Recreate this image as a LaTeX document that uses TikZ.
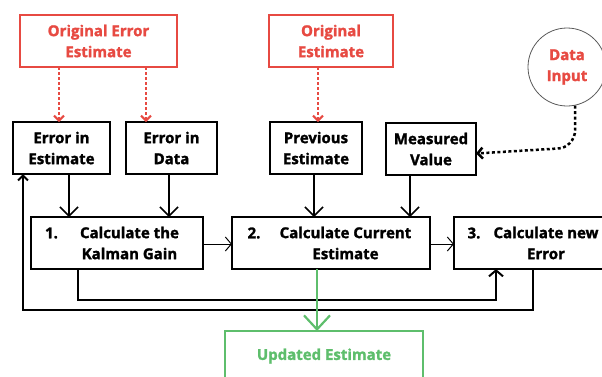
\documentclass[tikz,border=0pt]{standalone}
\usepackage{fontspec}
\setmainfont{Open Sans}
\newfontfamily\heavyfont{Open Sans Bold}[FakeBold=1.6]
\usetikzlibrary{arrows.meta}
\definecolor{ored}{RGB}{231,74,66}
\definecolor{ogreen}{RGB}{94,190,108}
\definecolor{ogrey}{RGB}{90,90,90}
\begin{document}
\begin{tikzpicture}[x=1pt,y=-1pt,
  txt/.style={font=\heavyfont\fontsize{15}{21}\selectfont, align=center, inner sep=0pt},
  box/.style={txt, draw=black, line width=2pt, outer sep=0pt},
  rbox/.style={box, draw=ored, text=ored},
  gbox/.style={box, draw=ogreen, text=ogreen},
  arr/.style={line width=1.5pt, -{Straight Barb[length=9pt,width=18pt]}},
  thinarr/.style={line width=1pt, -{Straight Barb[length=6pt,width=14pt]}},
  fback/.style={line width=2pt, line join=miter},
  rdash/.style={ored, line width=2pt, dash pattern=on 3pt off 2pt, -{Straight Barb[length=5pt,width=10pt]}},
  kdash/.style={black, line width=2.5pt, dash pattern=on 3pt off 2.5pt, -{Straight Barb[length=5pt,width=11pt]}},
  garr/.style={ogreen, line width=2.2pt, -{Straight Barb[length=14pt,width=26pt]}}
]
\useasboundingbox (0,0) rectangle (602,376);

% sources
\node[rbox, minimum width=157, minimum height=52] (oee) at (98.5,41) {Original Error\\Estimate};
\node[rbox, minimum width=124, minimum height=52] (oe) at (331,41) {Original\\Estimate};
\node[txt, circle, draw=ogrey, line width=0.8pt, minimum size=78, text=ored] (di) at (567,67) {Data\\Input};

% inputs
\node[box, minimum width=97, minimum height=52] (eie) at (61.5,148) {Error in\\Estimate};
\node[box, minimum width=91, minimum height=52] (eid) at (171.5,148) {Error in\\Data};
\node[box, minimum width=92, minimum height=52] (pe) at (316,148) {Previous\\Estimate};
\node[box, minimum width=90, minimum height=52] (mv) at (431,149) {Measured\\Value};

% steps
\node[box, minimum width=172, minimum height=52] (k) at (117,243) {};
\node[txt] (k-num) at (51.5,233) {1.};
\node[txt] (k-txt) at (129.5,243) {Calculate the\\Kalman Gain};

\node[box, minimum width=198, minimum height=52] (c) at (331,243) {};
\node[txt] (c-num) at (254,233) {2.};
\node[txt] (c-txt) at (345.5,243) {Calculate Current\\Estimate\hspace{29pt}};

\node[box, minimum width=190, minimum height=52] (n) at (549,243) {};
\node[txt] (n-num) at (474,233) {3.};
\node[txt] (n-txt) at (546,243) {Calculate new\\Error\hspace{27pt}};

% result
\node[gbox, anchor=north, minimum width=198, minimum height=64] (u) at (324,331) {};
\node[txt, text=ogreen] (u-txt) at (324,356) {Updated Estimate};

% dashed feeds
\draw[rdash] ([xshift=-39.5pt]oee.south) -- ([xshift=-39.5pt]oee.south |- eie.north);
\draw[rdash] ([xshift=47.5pt]oee.south) -- ([xshift=47.5pt]oee.south |- eid.north);
\draw[rdash] ([xshift=-13pt]oe.south) -- ([xshift=-13pt]oe.south |- pe.north);
\draw[kdash] (di.282) -- ++(0,24) to[out=-90,in=0] ++(-18,19) -- ([yshift=-4.5pt]mv.east);

% inputs into steps
\draw[arr] ([xshift=7.5pt]eie.south) -- ([xshift=7.5pt]eie.south |- k.north);
\draw[arr] ([xshift=-2.5pt]eid.south) -- ([xshift=-2.5pt]eid.south |- k.north);
\draw[arr] ([xshift=-2pt]pe.south) -- ([xshift=-2pt]pe.south |- c.north);
\draw[arr] ([xshift=-21pt]mv.south) -- ([xshift=-21pt]mv.south |- c.north);

% step to step
\draw[thinarr] ([yshift=-1pt]k.east) -- ([yshift=-1pt]k.east -| c.west);
\draw[thinarr] ([yshift=-1pt]c.east) -- ([yshift=-1pt]c.east -| n.west);

% loops
\draw[fback, -{Straight Barb[length=6pt,width=14pt]}] ([xshift=-39pt]k.south) -- ++(0,31) -| ([xshift=-53pt]n.south);
\draw[fback, -{Straight Barb[length=5pt,width=10pt]}] ([xshift=-16pt]n.south) -- ++(0,41) -| ([xshift=-38.5pt]eie.south);

% output
\draw[garr] ([xshift=-14pt]c.south) -- ([xshift=-14pt]c.south |- u.north);
\end{tikzpicture}
\end{document}
